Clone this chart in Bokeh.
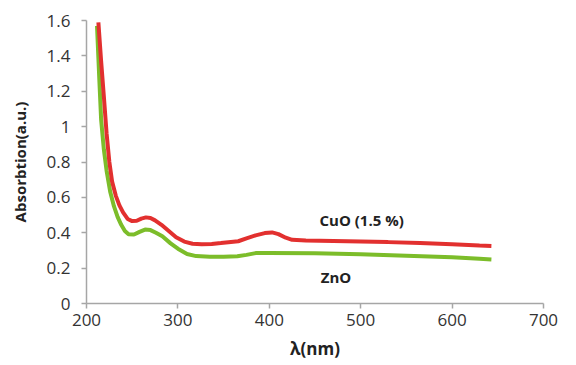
from bokeh.plotting import figure
from bokeh.models import FixedTicker, Range1d, Label
from bokeh.embed import file_html
from bokeh.resources import INLINE

# CuO (1.5 %) spectrum
wl_cuo = [213, 216, 219, 222, 225, 228, 232, 236, 240, 245, 250, 255, 260, 265, 270, 275,
          282, 290, 298, 307, 316, 326, 337, 347, 358, 366, 375, 385, 395, 403, 410, 418,
          425, 440, 470, 500, 530, 565, 600, 630, 643]
abs_cuo = [1.59, 1.37, 1.17, 0.96, 0.80, 0.69, 0.61, 0.555, 0.515, 0.478, 0.466, 0.468, 0.48,
           0.487, 0.483, 0.47, 0.445, 0.41, 0.375, 0.35, 0.338, 0.335, 0.337, 0.342, 0.348,
           0.352, 0.368, 0.385, 0.398, 0.402, 0.392, 0.372, 0.36, 0.356, 0.353, 0.35, 0.347,
           0.342, 0.335, 0.328, 0.325]

# ZnO spectrum
wl_zno = [211.5, 214, 216, 219, 222, 226, 230, 234, 238, 242, 246, 252, 258, 264, 270, 276,
          283, 292, 300, 310, 320, 335, 350, 365, 375, 385, 400, 450, 500, 550, 600, 630, 643]
abs_zno = [1.57, 1.27, 1.04, 0.87, 0.75, 0.63, 0.55, 0.49, 0.445, 0.41, 0.392, 0.39, 0.405,
           0.418, 0.415, 0.40, 0.38, 0.34, 0.31, 0.28, 0.268, 0.265, 0.264, 0.267, 0.275,
           0.285, 0.286, 0.284, 0.279, 0.27, 0.261, 0.253, 0.249]

x_ticks = [200, 300, 400, 500, 600, 700]
y_ticks = [0, 0.2, 0.4, 0.6, 0.8, 1.0, 1.2, 1.4, 1.6]
y_tick_labels = ["0", "0.2", "0.4", "0.6", "0.8", "1", "1.2", "1.4", "1.6"]

series_labels = ["CuO (1.5 %)", "ZnO"]
label_pos = [(501, 0.47), (473, 0.15)]

FONT = "Open Sans"
TXT = "#333333"
AX = "#a6a6a6"

p = figure(width=576, height=365, output_backend="svg", toolbar_location=None,
           x_range=Range1d(200, 700), y_range=Range1d(0, 1.6),
           min_border_left=86, min_border_right=33, min_border_top=20, min_border_bottom=62)
p.outline_line_color = None
p.xgrid.visible = False
p.ygrid.visible = False
p.background_fill_color = "white"
p.border_fill_color = "white"

p.line(wl_zno, abs_zno, line_color="#7cbd2a", line_width=4)
p.line(wl_cuo, abs_cuo, line_color="#e2302f", line_width=4)

for txt, (x, y) in zip(series_labels, label_pos):
    p.add_layout(Label(x=x, y=y, text=txt, text_font=FONT, text_font_size="15px",
                       text_font_style="bold", text_color="#222222",
                       text_align="center", text_baseline="middle"))

p.xaxis.ticker = FixedTicker(ticks=x_ticks)
p.yaxis.ticker = FixedTicker(ticks=y_ticks)
p.yaxis.major_label_overrides = {t: l for t, l in zip(y_ticks, y_tick_labels)}

for ax in (p.xaxis[0], p.yaxis[0]):
    ax.axis_line_color = AX
    ax.axis_line_width = 1.5
    ax.major_tick_line_color = AX
    ax.major_tick_line_width = 1.5
    ax.major_tick_in = 0
    ax.major_tick_out = 5
    ax.minor_tick_line_color = None
    ax.major_label_text_font = FONT
    ax.major_label_text_font_size = "17px"
    ax.major_label_text_color = TXT
    ax.axis_label_text_font = FONT
    ax.axis_label_text_font_style = "bold"
    ax.axis_label_text_color = "#222222"

p.xaxis.axis_label = "λ(nm)"
p.yaxis.axis_label = "Absorbtion(a.u.)"
p.xaxis.axis_label_text_font_size = "17px"
p.yaxis.axis_label_text_font_size = "15px"
p.xaxis.major_label_standoff = 5
p.xaxis.axis_label_standoff = 8
p.yaxis.major_label_standoff = 11
p.yaxis.axis_label_standoff = 14

open("out.html", "w").write(file_html(p, INLINE))
